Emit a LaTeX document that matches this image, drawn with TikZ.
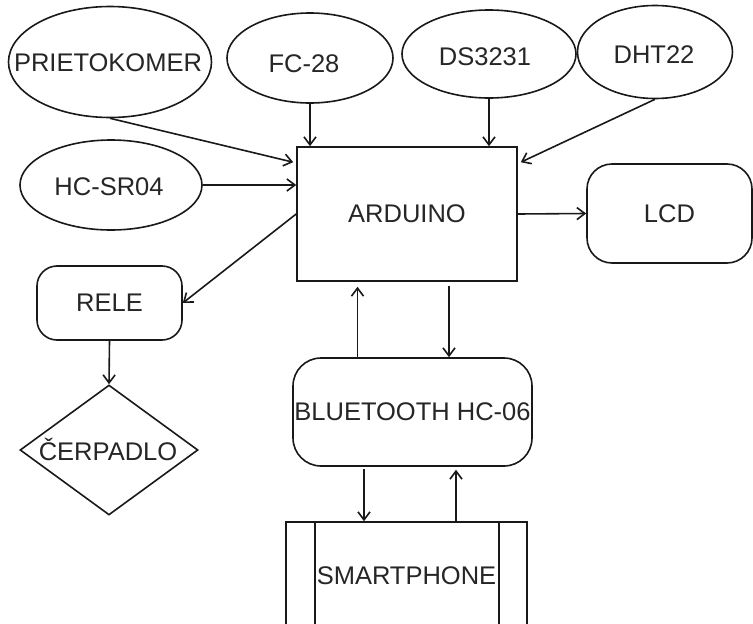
\documentclass[tikz,border=0pt]{standalone}
\usepackage{fontspec}
\setmainfont{Liberation Sans}
\usetikzlibrary{shapes.geometric,arrows.meta,calc}
\begin{document}
\begin{tikzpicture}[x=1pt,y=-1pt,
  every node/.style={font=\fontsize{25.5}{30}\selectfont, text=black!85, inner sep=0pt},
  ell/.style={ellipse, draw=black!90, line width=1.6pt},
  box/.style={rectangle, draw=black!90, line width=1.6pt},
  rbox/.style={rectangle, draw=black!90, line width=1.6pt, rounded corners=25pt},
  dia/.style={diamond, draw=black!90, line width=1.6pt},
  conn/.style={draw=black!90, line width=1.6pt, -{Straight Barb[length=8pt,width=12pt]}}]
\clip (0,0) rectangle (753,624);
\fill[white] (0,0) rectangle (753,624);

% sensors
\node[ell, minimum width=203pt, minimum height=111pt] (prieto) at (110,62) {};
\node (prietoT) at (108,63) {PRIETOKOMER};
\node[ell, minimum width=166pt, minimum height=90pt] (fc28) at (310,58) {};
\node (fc28T) at (304,64) {FC-28};
\node[ell, minimum width=174pt, minimum height=88pt] (ds) at (489,54) {};
\node (dsT) at (485,57) {DS3231};
\node[ell, minimum width=155pt, minimum height=93pt] (dht) at (655,52) {};
\node (dhtT) at (654,55) {DHT22};
\node[ell, minimum width=182pt, minimum height=90pt] (hcsr) at (111,185) {};
\node (hcsrT) at (109,187) {HC-SR04};

% main
\node[box, minimum width=220pt, minimum height=134pt] (arduino) at (407,214) {ARDUINO};
\node[rbox, minimum width=165pt, minimum height=99pt] (lcd) at (669.5,213.5) {LCD};
\node[rbox, rounded corners=20pt, minimum width=145pt, minimum height=74pt] (rele) at (109.5,303) {RELE};
\node[dia, minimum width=178pt, minimum height=130pt] (cerp) at (109,450) {};
\node[text height=18pt, text depth=0pt] (cerpT) at (108,451) {ČERPADLO};
\node[rbox, rounded corners=28pt, minimum width=239pt, minimum height=108pt] (bt) at (412.5,412) {BLUETOOTH HC-06};
\node[box, minimum width=241pt, minimum height=108pt] (smart) at (406.5,576) {SMARTPHONE};
\draw[draw=black!90, line width=1.6pt] ($(smart.north west)+(30,0)$) -- ($(smart.south west)+(30,0)$);
\draw[draw=black!90, line width=1.6pt] ($(smart.north east)+(-29,0)$) -- ($(smart.south east)+(-29,0)$);

% connectors
\draw[conn] (prieto.south) -- ($(arduino.north west)+(-3,16)$);
\draw[conn] (fc28.south) -- (fc28.south |- arduino.north);
\draw[conn] (ds.south) -- (ds.south |- arduino.north);
\draw[conn] (dht.south) -- ($(arduino.north east)+(3,16)$);
\draw[conn] (hcsr.east) -- (hcsr.east -| arduino.west);
\draw[conn] (arduino.east) -- (lcd.west);
\draw[conn] (arduino.west) -- (rele.east);
\draw[conn] (rele.south) -- (cerp.north);

\coordinate (u1) at ($(bt.north)+(-55,0)$);
\draw[conn, shorten >=5pt] (u1) -- (u1 |- arduino.south);
\coordinate (d1) at ($(bt.north)+(36.5,0)$);
\draw[conn, shorten <=4pt] (d1 |- arduino.south) -- (d1);
\coordinate (d2) at ($(smart.north)+(-42.5,0)$);
\draw[conn, shorten <=2pt] (d2 |- bt.south) -- (d2);
\coordinate (u2) at ($(smart.north)+(49.5,0)$);
\draw[conn, shorten >=3pt] (u2) -- (u2 |- bt.south);
\end{tikzpicture}
\end{document}
